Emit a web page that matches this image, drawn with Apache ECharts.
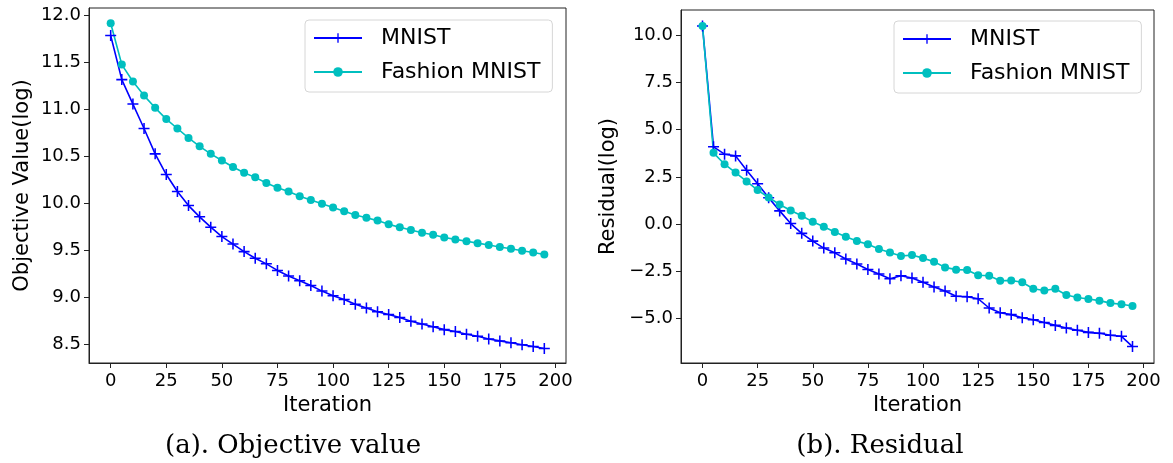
<!DOCTYPE html>
<html>
<head>
<meta charset="utf-8">
<script src="https://cdn.jsdelivr.net/npm/echarts@6/dist/echarts.min.js"></script>
<style>
  html, body { margin: 0; padding: 0; background: #fff; }
  #chart { width: 1173px; height: 463px; }
</style>
</head>
<body>
<div id="chart"></div>
<script>
// iterations 0..195, step 5
const iterations = [0, 5, 10, 15, 20, 25, 30, 35, 40, 45, 50, 55, 60, 65, 70, 75, 80, 85, 90, 95,
  100, 105, 110, 115, 120, 125, 130, 135, 140, 145, 150, 155, 160, 165, 170, 175, 180, 185, 190, 195];

// (a) objective value (log)
const objMnist = [11.79, 11.32, 11.06, 10.80, 10.53, 10.31, 10.13, 9.98, 9.86, 9.75,
  9.65, 9.57, 9.49, 9.42, 9.36, 9.29, 9.23, 9.18, 9.13, 9.07,
  9.02, 8.98, 8.93, 8.89, 8.85, 8.82, 8.79, 8.75, 8.72, 8.69,
  8.66, 8.64, 8.61, 8.59, 8.56, 8.54, 8.52, 8.50, 8.48, 8.46];
const objFashion = [11.92, 11.48, 11.30, 11.15, 11.02, 10.90, 10.80, 10.70, 10.61, 10.53,
  10.46, 10.39, 10.33, 10.28, 10.22, 10.17, 10.13, 10.08, 10.04, 10.00,
  9.96, 9.92, 9.88, 9.85, 9.82, 9.78, 9.75, 9.72, 9.69, 9.67,
  9.64, 9.62, 9.60, 9.58, 9.56, 9.54, 9.52, 9.50, 9.48, 9.46];

// (b) residual (log)
const resMnist = [10.48, 4.09, 3.70, 3.61, 2.85, 2.13, 1.40, 0.70, 0.03, -0.49,
  -0.90, -1.27, -1.52, -1.85, -2.11, -2.40, -2.64, -2.89, -2.73, -2.85,
  -3.08, -3.33, -3.54, -3.82, -3.84, -3.95, -4.44, -4.69, -4.79, -4.95,
  -5.06, -5.21, -5.36, -5.50, -5.62, -5.73, -5.78, -5.88, -5.94, -6.48];
const resFashion = [10.48, 3.77, 3.17, 2.73, 2.26, 1.80, 1.41, 1.04, 0.72, 0.44,
  0.12, -0.14, -0.42, -0.67, -0.90, -1.07, -1.32, -1.50, -1.69, -1.64,
  -1.80, -1.99, -2.29, -2.41, -2.43, -2.71, -2.73, -3.00, -2.98, -3.08,
  -3.42, -3.51, -3.42, -3.75, -3.88, -3.96, -4.05, -4.18, -4.24, -4.33];

const xTicks = [0, 25, 50, 75, 100, 125, 150, 175, 200];
const objTicks = [8.5, 9.0, 9.5, 10.0, 10.5, 11.0, 11.5, 12.0];
const resTicks = [-5.0, -2.5, 0.0, 2.5, 5.0, 7.5, 10.0];

const seriesNames = ['MNIST', 'Fashion MNIST'];
const captions = ['(a). Objective value', '(b). Residual'];
const yNames = ['Objective Value(log)', 'Residual(log)'];

const BLUE = '#0000ff';
const CYAN = '#00bfbf';
const FONT = 'DejaVu Sans';
// plus marker drawn as a filled cross
const PLUS = 'path://M4.3,0 h1.4 v4.3 h4.3 v1.4 h-4.3 v4.3 h-1.4 v-4.3 h-4.3 v-1.4 h4.3 z';

const pairs = (ys) => iterations.map((x, i) => [x, ys[i]]);
const fmt = (v) => (v < 0 ? '\u2212' : '') + Math.abs(v).toFixed(1);

function xAxisOf(gridIndex) {
  return {
    type: 'value',
    gridIndex,
    min: -9.75,
    max: 204.75,
    name: 'Iteration',
    nameLocation: 'middle',
    nameGap: 32,
    nameTextStyle: { fontFamily: FONT, fontSize: 21, color: '#000' },
    axisLine: { show: true, onZero: false, lineStyle: { color: '#222', width: 1 } },
    axisTick: { show: true, length: 5, customValues: xTicks, lineStyle: { color: '#222' } },
    axisLabel: { customValues: xTicks, margin: 9, fontFamily: FONT, fontSize: 18, color: '#000' },
    splitLine: { show: false },
  };
}

function yAxisOf(gridIndex, min, max, ticks, gap) {
  return {
    type: 'value',
    gridIndex,
    min,
    max,
    name: yNames[gridIndex],
    nameLocation: 'middle',
    nameGap: gap,
    nameTextStyle: { fontFamily: FONT, fontSize: 21, color: '#000' },
    axisLine: { show: true, onZero: false, lineStyle: { color: '#222', width: 1 } },
    axisTick: { show: true, length: 5, customValues: ticks, lineStyle: { color: '#222' } },
    axisLabel: { customValues: ticks, margin: 8, fontFamily: FONT, fontSize: 18, color: '#000', formatter: fmt },
    splitLine: { show: false },
  };
}

function lineOf(name, data, gridIndex, color, symbol, size) {
  return {
    name,
    type: 'line',
    xAxisIndex: gridIndex,
    yAxisIndex: gridIndex,
    data: pairs(data),
    symbol,
    symbolSize: size,
    showAllSymbol: true,
    lineStyle: { color, width: 1.6 },
    itemStyle: { color, borderWidth: 0 },
    emphasis: { disabled: true },
    animation: false,
  };
}

function legendAt(left, top) {
  return {
    orient: 'vertical',
    left,
    top,
    data: seriesNames,
    itemWidth: 48,
    itemHeight: 12,
    itemGap: 10,
    padding: [6, 12, 8, 8],
    borderColor: '#d6d6d6',
    borderWidth: 1,
    borderRadius: 4,
    backgroundColor: 'rgba(255,255,255,0.8)',
    textStyle: { fontFamily: FONT, fontSize: 22, color: '#000', lineHeight: 24, padding: [0, 0, 0, 14] },
  };
}

const captionStyle = { fontFamily: 'DejaVu Serif', fontSize: 26, fill: '#000', textAlign: 'center', textVerticalAlign: 'middle' };

const chart = echarts.init(document.getElementById('chart'), null, { renderer: 'canvas' });
chart.setOption({
  animation: false,
  backgroundColor: '#fff',
  grid: [
    { left: 89, top: 8, width: 477, height: 355, show: true, borderColor: '#222', borderWidth: 1, backgroundColor: 'transparent' },
    { left: 681, top: 10, width: 473, height: 353, show: true, borderColor: '#222', borderWidth: 1, backgroundColor: 'transparent' },
  ],
  xAxis: [xAxisOf(0), xAxisOf(1)],
  yAxis: [
    yAxisOf(0, 8.305, 12.082, objTicks, 56),
    yAxisOf(1, -7.35, 11.33, resTicks, 62),
  ],
  legend: [legendAt(305, 20), legendAt(894, 21)],
  series: [
    lineOf(seriesNames[0], objMnist, 0, BLUE, PLUS, 11),
    lineOf(seriesNames[1], objFashion, 0, CYAN, 'circle', 8),
    lineOf(seriesNames[0], resMnist, 1, BLUE, PLUS, 11),
    lineOf(seriesNames[1], resFashion, 1, CYAN, 'circle', 8),
  ],
  graphic: [
    { type: 'text', x: 293, y: 446, style: { ...captionStyle, text: captions[0] } },
    { type: 'text', x: 880, y: 446, style: { ...captionStyle, text: captions[1] } },
  ],
});
</script>
</body>
</html>
